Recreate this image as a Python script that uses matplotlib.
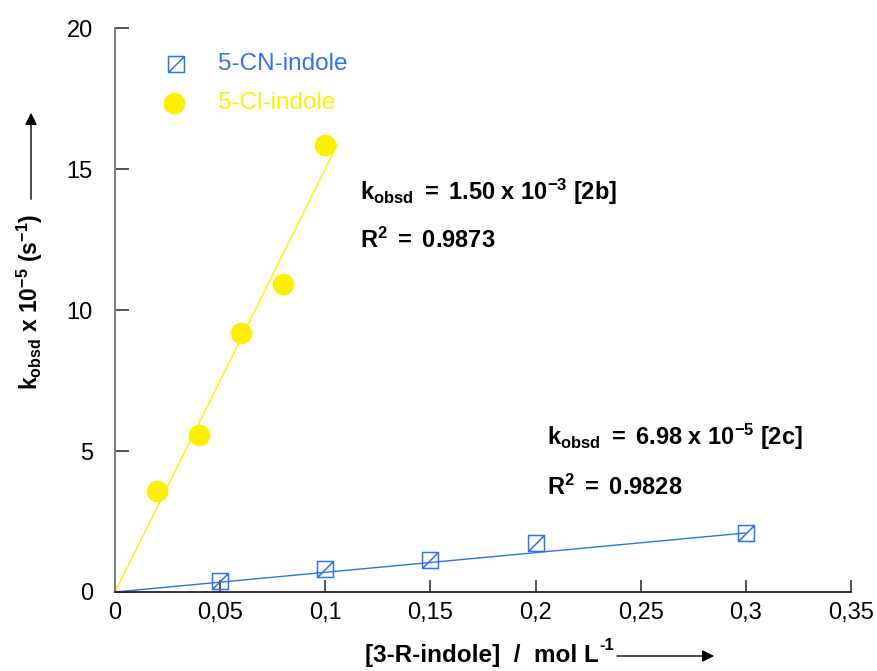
import matplotlib
matplotlib.use("Agg")
import matplotlib.pyplot as plt
import numpy as np
from matplotlib.path import Path
from matplotlib.ticker import FixedLocator, FuncFormatter

plt.rcParams['font.family'] = ['Liberation Sans', 'DejaVu Sans']
plt.rcParams['mathtext.fontset'] = 'custom'
plt.rcParams['mathtext.rm'] = 'Liberation Sans'
plt.rcParams['mathtext.bf'] = 'Liberation Sans:bold'
plt.rcParams['mathtext.it'] = 'Liberation Sans:italic'

# Data
cn_x = [0.05, 0.10, 0.15, 0.20, 0.30]
cn_y = [0.38, 0.80, 1.12, 1.73, 2.08]
cl_x = [0.02, 0.04, 0.06, 0.08, 0.10]
cl_y = [3.57, 5.58, 9.17, 10.92, 15.85]
cn_slope = 6.98     # x 1e-5
cl_slope = 150.0    # 1.50e-3 / 1e-5
cn_fit_end = 0.30
cl_fit_end = 0.106
xticks = [0, 0.05, 0.10, 0.15, 0.20, 0.25, 0.30, 0.35]
yticks = [0, 5, 10, 15, 20]

BLUE = '#2F70F0'
YELLOW = '#FFEE00'

# square with diagonal marker
sq = Path([(-1, -1), (1, -1), (1, 1), (-1, 1), (-1, -1), (-1, -1), (1, 1)],
          [Path.MOVETO, Path.LINETO, Path.LINETO, Path.LINETO, Path.CLOSEPOLY,
           Path.MOVETO, Path.LINETO])

fig = plt.figure(figsize=(8.77, 6.71), dpi=100)
ax = fig.add_axes([115/877, 1-592/671, (851-115)/877, (592-28)/671])

xf = np.array([0, cl_fit_end])
ax.plot(xf, cl_slope*xf, color=YELLOW, lw=1.0, zorder=2)
xf2 = np.array([0, cn_fit_end])
ax.plot(xf2, cn_slope*xf2, color=BLUE, lw=1.0, zorder=2)

ax.plot(cl_x, cl_y, 'o', ms=14.5, color=YELLOW, mec=YELLOW, zorder=3)
ax.plot(cn_x, cn_y, ls='none', marker=sq, ms=11.5, mfc='none', mec=BLUE, mew=1.1, zorder=3)

ax.set_xlim(0, 0.35)
ax.set_ylim(0, 20)
for s in ['top', 'right']:
    ax.spines[s].set_visible(False)
ax.spines['left'].set_color('#808080')
ax.spines['left'].set_linewidth(1.5)
ax.spines['bottom'].set_color('#222222')
ax.spines['bottom'].set_linewidth(1.3)

ax.xaxis.set_major_locator(FixedLocator(xticks))
ax.yaxis.set_major_locator(FixedLocator(yticks))
def fmt(v, pos):
    s = ('%g' % round(v, 4))
    return s.replace('.', ',')
ax.xaxis.set_major_formatter(FuncFormatter(fmt))
ax.yaxis.set_major_formatter(FuncFormatter(fmt))
ax.tick_params(axis='x', direction='in', length=9, width=1.2, color='#333333',
               labelsize=17, pad=7)
ax.tick_params(axis='y', direction='in', length=10, width=1.2, color='#333333',
               labelsize=17, pad=16)

# legend (manual)
fig_tr = fig.transFigure
def fx(px): return px/877
def fy(py): return 1-py/671
fig.lines.append(plt.Line2D([fx(176)], [fy(64)], transform=fig_tr, ls='none',
                            marker=sq, ms=11.5, mfc='none', mec=BLUE, mew=1.1))
fig.lines.append(plt.Line2D([fx(174)], [fy(103)], transform=fig_tr, ls='none',
                            marker='o', ms=14.5, color=YELLOW))
fig.text(fx(218), fy(64), '5-CN-indole', color=BLUE, fontsize=17.5, va='center', ha='left')
fig.text(fx(218), fy(103), '5-Cl-indole', color=YELLOW, fontsize=17.5, va='center', ha='left')

# annotations
fs = 17
fig.text(fx(360), fy(192), r'$\mathbf{k_{obsd}\ {=}\ 1.50\ x\ 10^{-3}\ [2b]}$', fontsize=fs,
         va='center', ha='left')
fig.text(fx(360), fy(240), r'$\mathbf{R^{2}\ {=}\ 0.9873}$', fontsize=fs, va='center', ha='left')
fig.text(fx(547), fy(437), r'$\mathbf{k_{obsd}\ {=}\ 6.98\ x\ 10^{-5}\ [2c]}$', fontsize=fs,
         va='center', ha='left')
fig.text(fx(547), fy(487), r'$\mathbf{R^{2}\ {=}\ 0.9828}$', fontsize=fs, va='center', ha='left')

# axis labels with arrows
fig.text(fx(30), fy(302), r'$\mathbf{k_{obsd}\ x\ 10^{-5}\ (s^{-1})}$', fontsize=16.5,
         rotation=90, va='center', ha='center')
fig.add_artist(matplotlib.patches.FancyArrowPatch((fx(31), fy(202)), (fx(31), fy(110)),
               transform=fig_tr, arrowstyle='-|>', mutation_scale=18, color='black', lw=1.0))
xl = fig.text(fx(365), fy(662), '[3-R-indole]  /  mol L', fontsize=17.5, fontweight='bold',
              va='baseline', ha='left')
fig.canvas.draw()
r = fig.canvas.get_renderer()
bb = xl.get_window_extent(renderer=r)
sup = fig.text(bb.x1/877 + 0.001, fy(650), '-1', fontsize=12, fontweight='bold',
               va='baseline', ha='left')
bb2 = sup.get_window_extent(renderer=r)
fig.add_artist(matplotlib.patches.FancyArrowPatch((bb2.x1/877, fy(656)), (fx(717), fy(656)),
               transform=fig_tr, arrowstyle='-|>', mutation_scale=18, color='black', lw=1.0))

fig.savefig('out.png', dpi=100)
